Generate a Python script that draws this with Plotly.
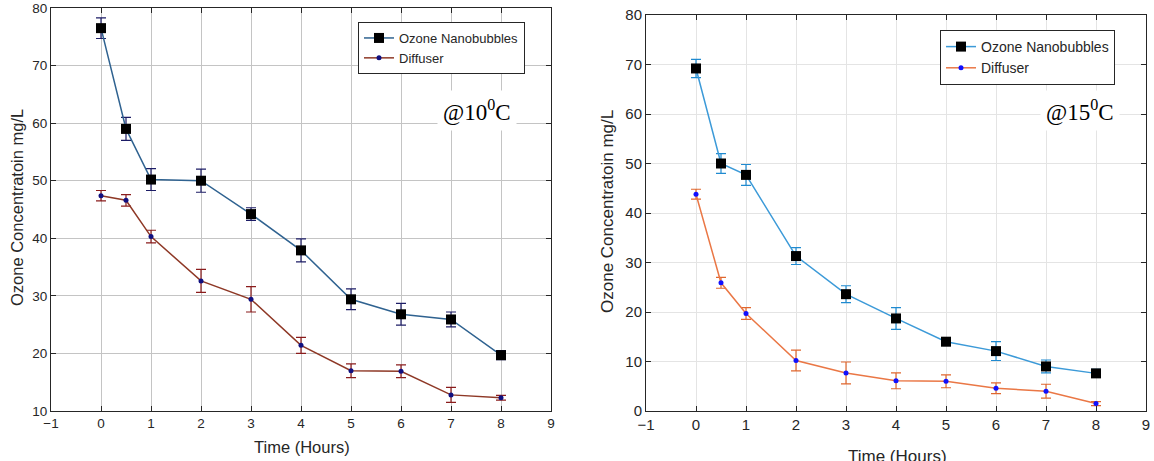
import plotly.graph_objects as go

# ---- data ----
time_h = [0, 0.5, 1, 2, 3, 4, 5, 6, 7, 8]

nb_10 = [76.5, 59.0, 50.2, 50.0, 44.2, 37.9, 29.4, 26.8, 25.9, 19.7]
nb_10_err = [1.8, 2.0, 1.9, 2.0, 1.1, 2.0, 1.8, 1.9, 1.3, 0.8]
df_10 = [47.4, 46.6, 40.3, 32.6, 29.4, 21.4, 17.0, 16.9, 12.8, 12.3]
df_10_err = [0.9, 1.0, 1.1, 2.0, 2.2, 1.4, 1.2, 1.1, 1.3, 0.4]

nb_15 = [69.2, 50.0, 47.7, 31.3, 23.6, 18.7, 14.0, 12.1, 9.0, 7.6]
nb_15_err = [1.85, 2.0, 2.1, 1.7, 1.7, 2.2, 0.6, 1.9, 1.3, 0.8]
df_15 = [43.8, 25.9, 19.7, 10.2, 7.7, 6.1, 6.0, 4.6, 4.0, 1.5]
df_15_err = [1.0, 1.1, 1.2, 2.1, 2.2, 1.6, 1.3, 1.1, 1.4, 0.4]

x_ticks = list(range(-1, 10))
y_ticks_10 = list(range(10, 81, 10))
y_ticks_15 = list(range(0, 81, 10))

W, H = 1154, 461
FONT = "Liberation Sans, Arial, sans-serif"
SERIF = "Liberation Serif, Times New Roman, serif"

def px(x):
    return x / W

def py(y):
    return 1 - y / H

fig = go.Figure()

# left chart (10 C)
fig.add_trace(go.Scatter(
    x=time_h, y=nb_10, name="Ozone Nanobubbles", mode="lines+markers",
    line=dict(color="#2f6290", width=1.5),
    marker=dict(symbol="square", size=10, color="black"),
    error_y=dict(type="data", array=nb_10_err, color="#1c1c66", thickness=1.2, width=5),
    xaxis="x", yaxis="y", legend="legend"))
fig.add_trace(go.Scatter(
    x=time_h, y=df_10, name="Diffuser", mode="lines+markers",
    line=dict(color="#8e3826", width=1.5),
    marker=dict(symbol="circle", size=5, color="#101080"),
    error_y=dict(type="data", array=df_10_err, color="#8a1c1c", thickness=1.2, width=5),
    xaxis="x", yaxis="y", legend="legend"))

# right chart (15 C)
fig.add_trace(go.Scatter(
    x=time_h, y=nb_15, name="Ozone Nanobubbles", mode="lines+markers",
    line=dict(color="#3c9ad8", width=1.5),
    marker=dict(symbol="square", size=10, color="black"),
    error_y=dict(type="data", array=nb_15_err, color="#1f8ad0", thickness=1.2, width=5),
    xaxis="x2", yaxis="y2", legend="legend2"))
fig.add_trace(go.Scatter(
    x=time_h, y=df_15, name="Diffuser", mode="lines+markers",
    line=dict(color="#ea7745", width=1.5),
    marker=dict(symbol="circle", size=5, color="#1010ff"),
    error_y=dict(type="data", array=df_15_err, color="#e0672e", thickness=1.2, width=5),
    xaxis="x2", yaxis="y2", legend="legend2"))

def axis_common(size):
    return dict(
        showline=True, linecolor="#262626", linewidth=1, mirror="allticks",
        ticks="inside", ticklen=5, tickcolor="#262626",
        tickfont=dict(family=FONT, size=size, color="#262626"),
        zeroline=False, showgrid=True, automargin=False,
        ticklabeloverflow="allow",
    )

fig.update_layout(
    template="none",
    width=W, height=H,
    margin=dict(l=0, r=0, t=0, b=0, autoexpand=False),
    paper_bgcolor="white", plot_bgcolor="white",
    font=dict(family=FONT, color="#262626"),
    xaxis=dict(domain=[px(51), px(551)], range=[-1, 9], tickvals=x_ticks,
               gridcolor="#c4c4c4", gridwidth=1, anchor="y", **axis_common(13.5)),
    yaxis=dict(domain=[py(411), py(8)], range=[10, 80], tickvals=y_ticks_10,
               gridcolor="#c4c4c4", gridwidth=1, anchor="x", **axis_common(13.5)),
    xaxis2=dict(domain=[px(646), px(1146)], range=[-1, 9], tickvals=x_ticks,
                gridcolor="#e4e4e4", gridwidth=1, anchor="y2", **axis_common(15)),
    yaxis2=dict(domain=[py(411), py(15)], range=[0, 80], tickvals=y_ticks_15,
                gridcolor="#e4e4e4", gridwidth=1, anchor="x2", **axis_common(15)),
    legend=dict(x=px(358), y=py(22), xanchor="left", yanchor="top",
                bgcolor="white", bordercolor="#262626", borderwidth=1,
                font=dict(family=FONT, size=13, color="#262626"),
                tracegroupgap=0, itemwidth=30, entrywidth=150, entrywidthmode="pixels"),
    legend2=dict(x=px(940), y=py(30), xanchor="left", yanchor="top",
                 bgcolor="white", bordercolor="#262626", borderwidth=1,
                 font=dict(family=FONT, size=14, color="#262626"),
                 tracegroupgap=0, itemwidth=30, entrywidth=150, entrywidthmode="pixels"),
    showlegend=True,
)

annotations = [
    dict(text="@10<sup>0</sup>C", x=px(477), y=py(111), xref="paper", yref="paper",
         xanchor="center", yanchor="middle",
         showarrow=False, font=dict(family=SERIF, size=23, color="black"),
         bgcolor="white", borderpad=5),
    dict(text="@15<sup>0</sup>C", x=px(1080), y=py(111), xref="paper", yref="paper",
         xanchor="center", yanchor="middle",
         showarrow=False, font=dict(family=SERIF, size=23, color="black"),
         bgcolor="white", borderpad=5),
    dict(text="Time (Hours)", x=px(302), y=py(447), xref="paper", yref="paper",
         xanchor="center", yanchor="middle",
         showarrow=False, font=dict(family=FONT, size=16.5, color="#262626")),
    dict(text="Time (Hours)", x=px(897), y=py(456), xref="paper", yref="paper",
         xanchor="center", yanchor="middle",
         showarrow=False, font=dict(family=FONT, size=17, color="#262626")),
    dict(text="Ozone Concentratoin mg/L", x=px(17), y=py(208), xref="paper", yref="paper",
         xanchor="center", yanchor="middle",
         showarrow=False, textangle=-90, font=dict(family=FONT, size=16.5, color="#262626")),
    dict(text="Ozone Concentratoin mg/L", x=px(607), y=py(212), xref="paper", yref="paper",
         xanchor="center", yanchor="middle",
         showarrow=False, textangle=-90, font=dict(family=FONT, size=17, color="#262626")),
]
fig.update_layout(annotations=annotations)

fig.write_html(
    "out.html",
    config={"displayModeBar": False},
    post_script="document.body.style.margin='0';document.body.style.overflow='hidden';",
)
